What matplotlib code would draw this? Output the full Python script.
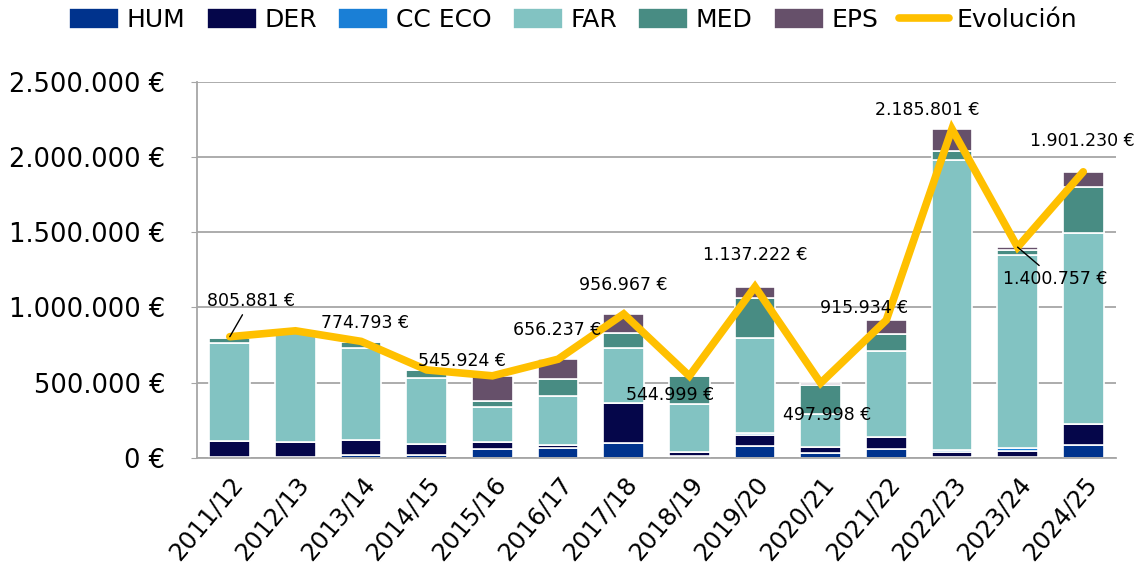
import matplotlib
matplotlib.use('Agg')
import numpy as np
import matplotlib.pyplot as plt

# DATA

cursos = ['2011/12', '2012/13', '2013/14', '2014/15', '2015/16', '2016/17', '2017/18',
          '2018/19', '2019/20', '2020/21', '2021/22', '2022/23', '2023/24', '2024/25']

hum    = [10000, 5000, 20000, 20000, 63000, 67000, 100000, 12000, 80000, 33000, 62000, 8000, 10000, 85000]
der    = [100000, 100000, 100000, 70000, 45000, 18000, 265000, 25000, 75000, 38000, 75000, 32000, 37000, 140000]
cc_eco = [0, 0, 0, 0, 0, 0, 0, 0, 12000, 0, 0, 10000, 20000, 0]
far    = [655000, 730000, 610000, 440000, 228000, 330000, 365000, 320000, 630000, 222000, 575000, 1930000, 1280000, 1270000]
med    = [32000, 8000, 40000, 55000, 46000, 108000, 98000, 188000, 265000, 190000, 113000, 60000, 35000, 305000]
eps    = [9000, 2000, 5000, 0, 164000, 133000, 129000, 0, 75000, 15000, 91000, 146000, 19000, 101000]

evolucion = [805881, 845000, 774793, 585000, 545924, 656237, 956967, 544999,
             1137222, 497998, 915934, 2185801, 1400757, 1901230]

# which points carry a value label, and where the label sits (offset in points)
label_idx     = [0, 2, 4, 5, 6, 7, 8, 9, 10, 11, 12, 13]
label_offsets = [(15, 26), (3, 13), (-22, 11), (-1, 21), (0, 21), (-14, -14),
                 (0, 23), (5, -23), (-16, 9), (-18, 14), (27, -23), (-1, 22)]
leader_idx    = [0, 12]

series = [('HUM', hum, '#00338D'), ('DER', der, '#05064A'), ('CC ECO', cc_eco, '#1A7FD6'),
          ('FAR', far, '#82C3C2'), ('MED', med, '#488C83'), ('EPS', eps, '#66506A')]

def eur(v):
    return f'{v:,.0f} €'.replace(',', '.')

# FIGURE

plt.rcParams['font.family'] = ['DejaVu Sans']

fig = plt.figure(figsize=(11.4, 5.78), dpi=100)
ax = fig.add_axes([0.1728, 0.2076, 0.8062, 0.6511])

x = np.arange(len(cursos))
bottom = np.zeros(len(cursos))
for name, vals, color in series:
    vals = np.array(vals, dtype=float)
    ax.bar(x, vals, width=0.62, bottom=bottom, color=color, edgecolor='white',
           linewidth=1.2, label=name, zorder=2)
    bottom += vals

ax.plot(x, evolucion, color='#FFC000', lw=5.5, label='Evolución', zorder=3,
        solid_joinstyle='miter', solid_capstyle='round')

for i, (dx, dy) in zip(label_idx, label_offsets):
    if i in leader_idx:
        ax.annotate(eur(evolucion[i]), xy=(i, evolucion[i]), xytext=(dx, dy),
                    textcoords='offset points', ha='center', va='center', fontsize=12.5,
                    zorder=4, arrowprops=dict(arrowstyle='-', color='black', lw=1,
                                              shrinkA=2, shrinkB=0))
    else:
        ax.annotate(eur(evolucion[i]), xy=(i, evolucion[i]), xytext=(dx, dy),
                    textcoords='offset points', ha='center', va='center', fontsize=12.5,
                    zorder=4)

ax.set_xlim(-0.5, len(cursos) - 0.5)
ax.set_ylim(0, 2500000)
ax.set_yticks(np.arange(0, 2500001, 500000))
ax.set_yticklabels([eur(v) for v in np.arange(0, 2500001, 500000)], fontsize=18.5)
ax.set_xticks(x)
ax.set_xticklabels(cursos, rotation=50, ha='right', va='top', rotation_mode='anchor', fontsize=17.5)
ax.tick_params(axis='x', length=0, pad=10)
ax.tick_params(axis='y', length=4, color='#A6A6A6', pad=19)

ax.grid(axis='y', color='#A6A6A6', lw=1.3, zorder=0)
ax.set_axisbelow(True)
for s in ['top', 'right']:
    ax.spines[s].set_visible(False)
for s in ['left', 'bottom']:
    ax.spines[s].set_color('#A6A6A6')
    ax.spines[s].set_linewidth(1.3)

handles, labels = ax.get_legend_handles_labels()
order = [1, 2, 3, 4, 5, 6, 0]
fig.legend([handles[k] for k in order], [labels[k] for k in order],
           loc='upper center', bbox_to_anchor=(0.503, 1.025), ncol=7, frameon=False,
           fontsize=18, handlelength=2.0, handleheight=0.9, handletextpad=0.3,
           columnspacing=0.85)

fig.savefig('out.png', dpi=100)
